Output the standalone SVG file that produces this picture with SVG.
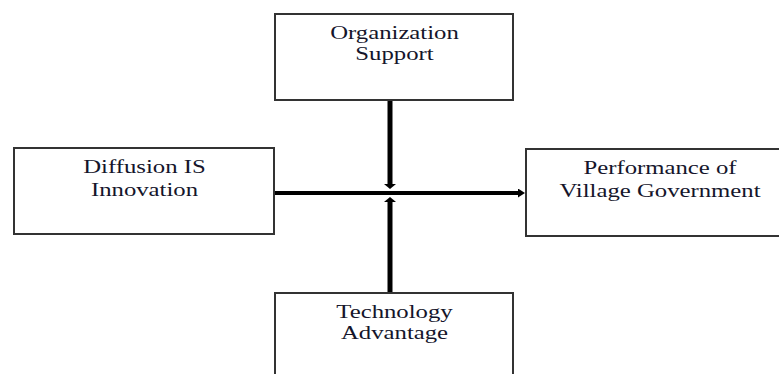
<svg xmlns="http://www.w3.org/2000/svg" width="779" height="374" viewBox="0 0 779 374">
  <style>
    .box { fill: #ffffff; stroke: #333333; stroke-width: 2; }
    .lbl { font-family: "Liberation Serif", "Times New Roman", serif; font-size: 19.5px; fill: #15152b; text-anchor: middle; }
    .conn { stroke: #000000; fill: none; stroke-linecap: butt; }
  </style>
  <defs>
    <marker id="arrH" markerUnits="userSpaceOnUse" markerWidth="7" markerHeight="9" viewBox="0 0 7 9" refX="0" refY="4.5" orient="auto">
      <path d="M0,0 L7,4.5 L0,9 z" fill="#000000"/>
    </marker>
    <marker id="arrV" markerUnits="userSpaceOnUse" markerWidth="5" markerHeight="12" viewBox="0 0 5 12" refX="0" refY="6" orient="auto">
      <path d="M0,0 L5,6 L0,12 z" fill="#000000"/>
    </marker>
  </defs>
  <rect width="779" height="374" fill="#ffffff"/>

  <g id="connectors">
    <line class="conn" x1="274" y1="193" x2="518" y2="193" stroke-width="4" marker-end="url(#arrH)"/>
    <line class="conn" x1="390" y1="101" x2="390" y2="184" stroke-width="5" marker-end="url(#arrV)"/>
    <line class="conn" x1="390" y1="292" x2="390" y2="202" stroke-width="5" marker-end="url(#arrV)"/>
  </g>

  <g id="organization-support">
    <rect class="box" x="275" y="14" width="238" height="86"/>
    <g transform="matrix(1.27,0,0,1,394.5,0)">
      <text class="lbl" x="0" y="39">Organization</text>
      <text class="lbl" x="0" y="60">Support</text>
    </g>
  </g>

  <g id="diffusion-is-innovation">
    <rect class="box" x="14" y="148" width="260" height="86"/>
    <g transform="matrix(1.27,0,0,1,144.5,0)">
      <text class="lbl" x="0" y="173">Diffusion IS</text>
      <text class="lbl" x="0" y="196">Innovation</text>
    </g>
  </g>

  <g id="performance-village-government">
    <rect class="box" x="526" y="149" width="280" height="87"/>
    <g transform="matrix(1.27,0,0,1,660,0)">
      <text class="lbl" x="0" y="174">Performance of</text>
      <text class="lbl" x="0" y="197">Village Government</text>
    </g>
  </g>

  <g id="technology-advantage">
    <rect class="box" x="275" y="293" width="238" height="110"/>
    <g transform="matrix(1.27,0,0,1,394.5,0)">
      <text class="lbl" x="0" y="318">Technology</text>
      <text class="lbl" x="0" y="339">Advantage</text>
    </g>
  </g>
</svg>
